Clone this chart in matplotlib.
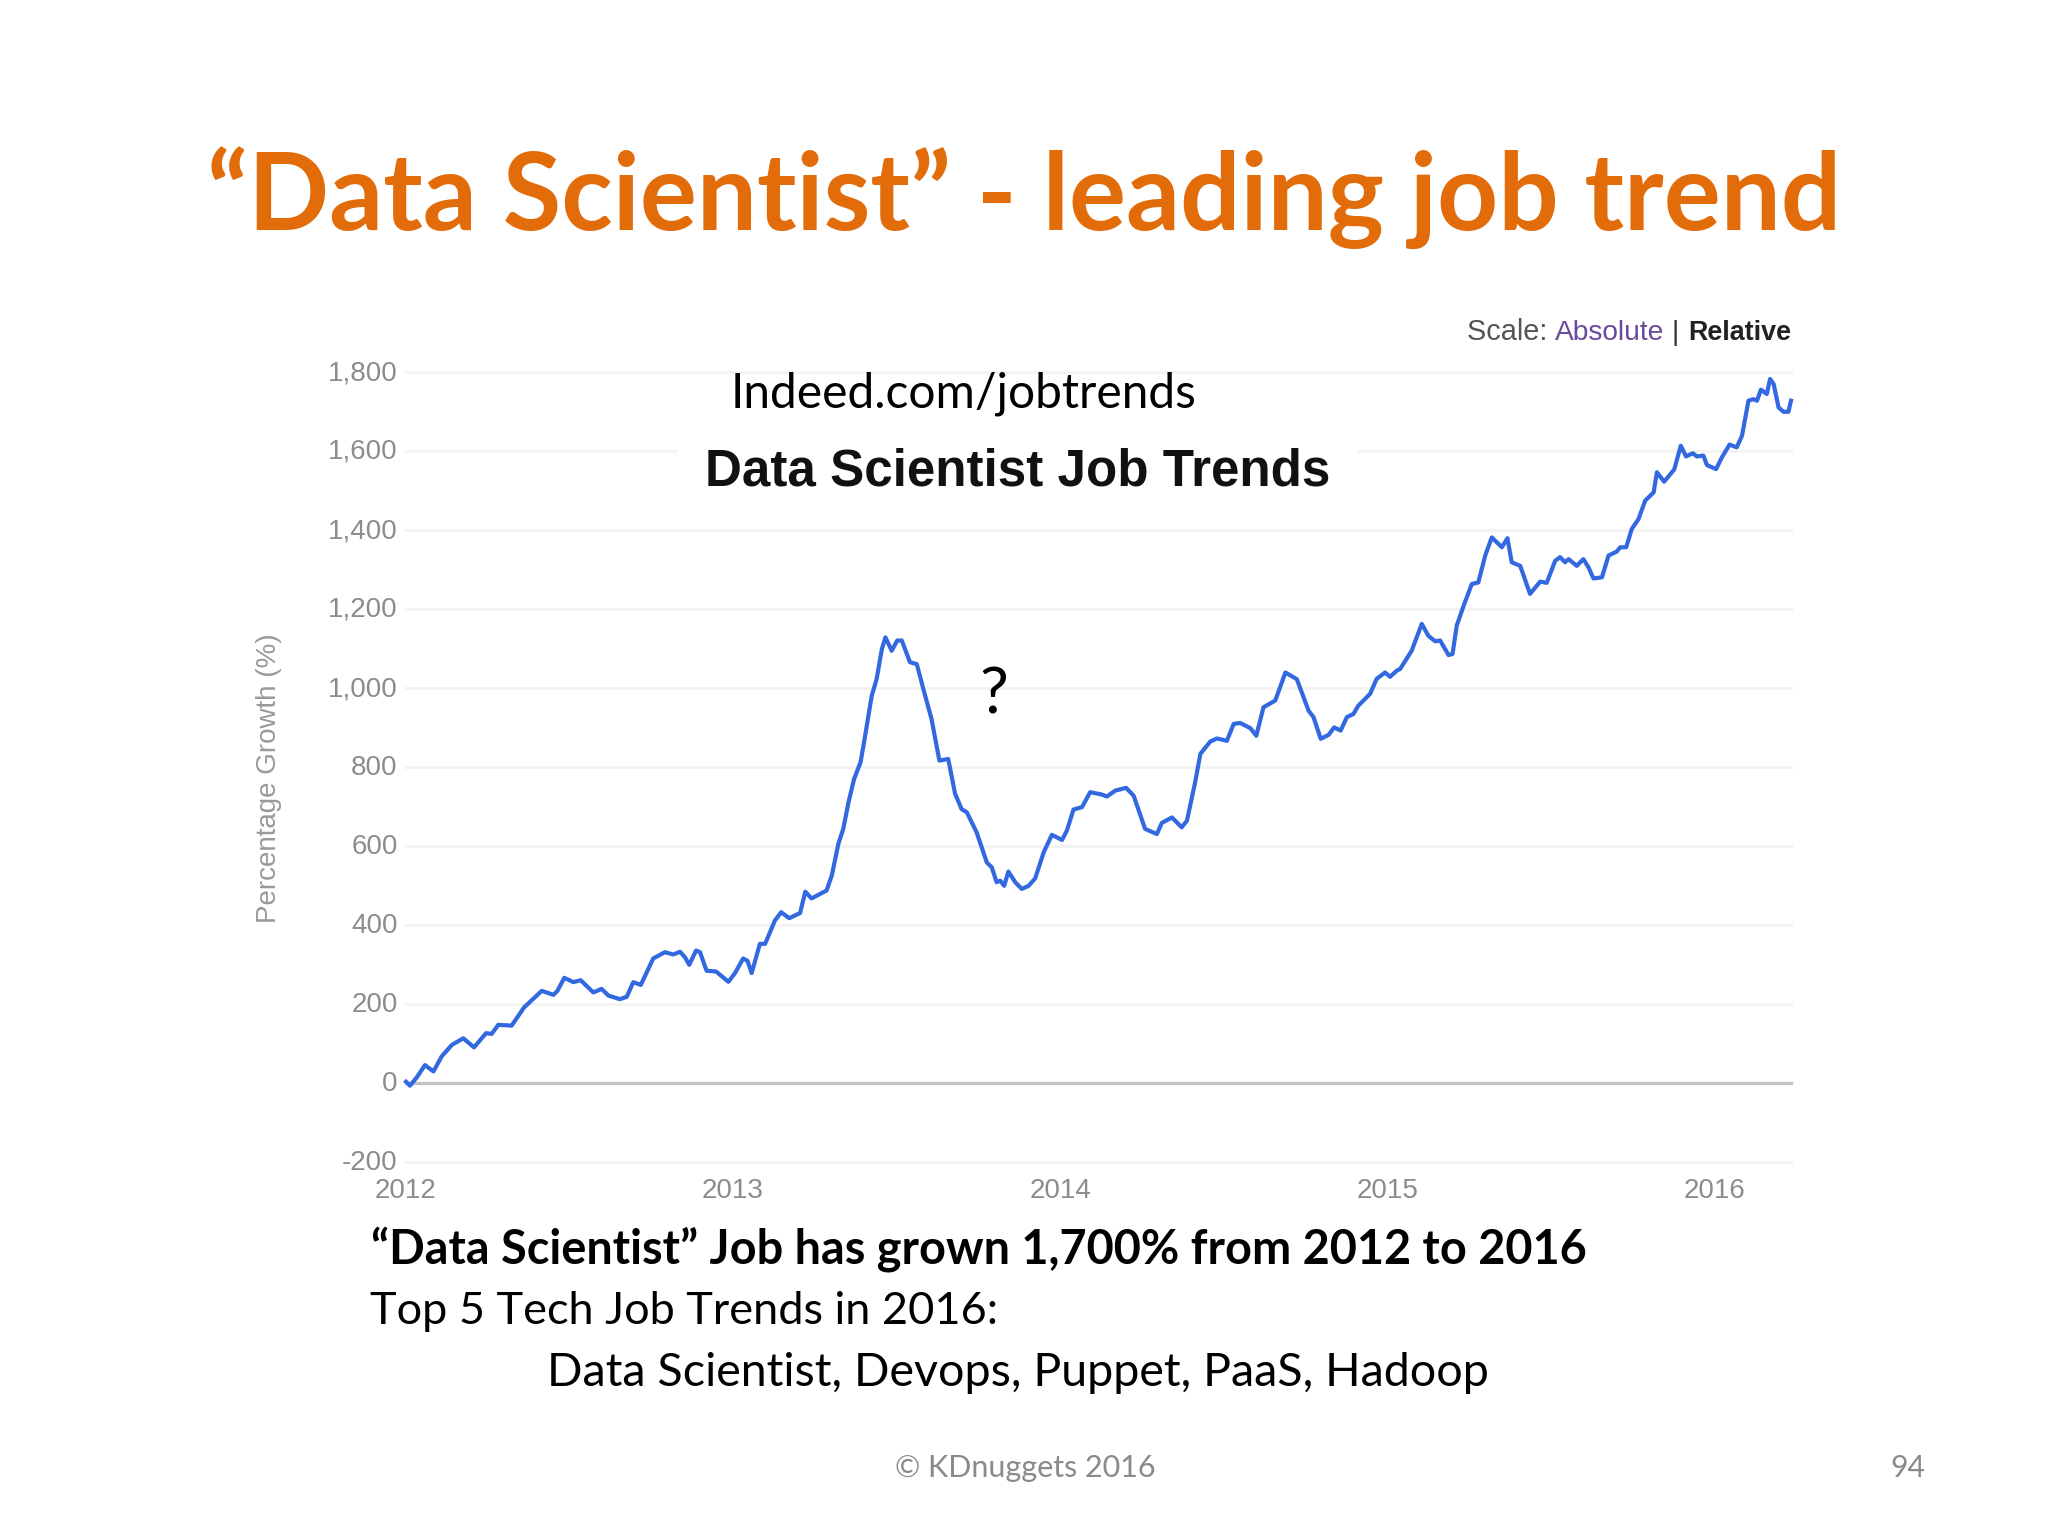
import matplotlib
matplotlib.use("Agg")
import matplotlib.pyplot as plt
from matplotlib.transforms import ScaledTranslation

# ---- data ----
years = [
 2012.000,2012.012,2012.033,2012.058,2012.084,2012.109,2012.140,2012.175,2012.208,2012.245,2012.262,2012.282,2012.323,
 2012.361,2012.415,2012.451,2012.463,2012.484,2012.512,2012.534,2012.573,2012.598,2012.619,2012.654,2012.675,2012.695,
 2012.718,2012.756,2012.792,2012.817,2012.838,2012.853,2012.866,2012.887,2012.899,2012.919,2012.948,2012.986,
 2013.006,2013.031,2013.044,2013.057,2013.082,2013.098,2013.128,2013.147,2013.172,2013.205,2013.221,2013.240,2013.286,
 2013.302,2013.322,2013.337,2013.353,2013.370,2013.390,2013.404,2013.424,2013.439,2013.455,2013.466,2013.485,2013.502,
 2013.516,2013.541,2013.562,2013.582,2013.607,2013.631,2013.658,2013.679,2013.699,2013.715,2013.745,2013.776,2013.791,
 2013.806,2013.817,2013.829,2013.842,2013.863,2013.883,2013.904,2013.924,2013.950,2013.975,
 2014.006,2014.021,2014.041,2014.067,2014.092,2014.128,2014.143,2014.169,2014.202,2014.225,2014.260,2014.296,2014.311,
 2014.342,2014.372,2014.388,2014.413,2014.429,2014.459,2014.480,2014.510,2014.531,2014.551,2014.582,2014.600,2014.622,
 2014.658,2014.689,2014.724,2014.760,2014.775,2014.797,2014.821,2014.838,2014.858,2014.877,2014.897,2014.912,2014.948,
 2014.968,2014.994,2015.009,2015.030,2015.040,2015.075,2015.106,2015.126,2015.147,2015.162,2015.188,2015.200,2015.213,
 2015.234,2015.259,2015.279,2015.300,2015.320,2015.351,2015.368,2015.381,2015.407,2015.437,2015.468,2015.488,2015.514,
 2015.529,2015.544,2015.555,2015.580,2015.600,2015.616,2015.631,2015.657,2015.677,2015.702,2015.713,2015.731,2015.748,
 2015.769,2015.789,2015.815,2015.825,2015.847,2015.878,2015.898,2015.914,2015.935,2015.947,2015.967,2015.978,
 2016.006,2016.024,2016.047,2016.069,2016.085,2016.105,2016.120,2016.131,2016.143,2016.161,2016.171,2016.182,2016.197,
 2016.212,2016.227,2016.235,
]
growth = [
 2,-8,13,44,28,66,95,112,89,125,123,146,144,
 190,232,222,232,265,254,259,228,237,220,211,217,254,
 247,314,330,324,331,317,298,334,330,283,281,255,
 277,314,308,277,351,351,410,431,416,429,483,466,486,
 524,604,642,709,768,811,878,979,1021,1097,1127,1093,1119,
 1119,1064,1059,996,920,815,819,731,692,684,633,557,545,
 507,511,498,534,507,490,498,517,583,627,
 614,638,691,697,735,729,724,739,746,726,642,629,657,
 671,646,663,760,832,863,871,865,908,910,897,878,950,
 967,1038,1021,941,925,870,880,899,891,925,933,954,984,
 1022,1038,1027,1043,1047,1093,1161,1131,1117,1119,1082,1085,1157,
 1207,1262,1266,1334,1380,1355,1378,1317,1308,1237,1268,1265,1321,
 1330,1317,1325,1308,1325,1304,1276,1279,1334,1344,1355,1355,1401,
 1427,1473,1494,1545,1521,1552,1612,1585,1593,1585,1587,1563,
 1553,1583,1615,1608,1637,1726,1730,1726,1754,1743,1781,1768,1709,
 1698,1698,1726,
]
y_ticks = [-200, 0, 200, 400, 600, 800, 1000, 1200, 1400, 1600, 1800]
x_ticks = [2012, 2013, 2014, 2015, 2016]

W, H = 2048, 1536
fig = plt.figure(figsize=(W / 100, H / 100), dpi=100, facecolor="white")
L, R, T, B = 406, 1791, 371.5, 1161.5
ax = fig.add_axes([L / W, 1 - B / H, (R - L) / W, (B - T) / H])
ax.set_xlim(2012, 2016.235)
ax.set_ylim(-200, 1800)
ax.patch.set_alpha(0)
for s in ax.spines.values():
    s.set_visible(False)
ax.set_yticks(y_ticks)
ax.set_yticklabels([f"{v:,}" for v in y_ticks])
ax.set_xticks(x_ticks)
ax.set_xticklabels([str(v) for v in x_ticks])
ax.tick_params(axis="both", length=0, labelsize=20, labelcolor="#8c8c8c")
ax.tick_params(axis="y", pad=6)
ax.tick_params(axis="x", pad=12)
for lab in ax.get_xticklabels() + ax.get_yticklabels():
    lab.set_family("Liberation Sans")
for lab in ax.get_yticklabels():
    lab.set_transform(lab.get_transform() + ScaledTranslation(0, 1.5 / 100, fig.dpi_scale_trans))
for v in y_ticks:
    if v == 0:
        ax.axhline(v, color="#c4c4c4", lw=2.4, zorder=1, clip_on=False)
    else:
        ax.axhline(v, color="#f3f3f3", lw=2.2, zorder=1, clip_on=False)
ax.plot(years, growth, color="#3268E0", lw=3.0, zorder=3, clip_on=False, solid_joinstyle="round")

renderer = fig.canvas.get_renderer()


def fit(s, x0, x1, base, family, weight="normal", color="black", **kw):
    t = fig.text(x0 / W, 1 - base / H, s, family=family, weight=weight, color=color,
                 ha="left", va="baseline", fontsize=20, zorder=5, **kw)
    w = t.get_window_extent(renderer).width
    t.set_fontsize(20 * (x1 - x0) / w)
    return t


fit("“Data Scientist” - leading job trend", 207, 1843, 230, "Lato", "bold", "#E36C0A")
fit("Indeed.com/jobtrends", 731, 1198, 407, "Lato")
t = fit("Data Scientist Job Trends", 705, 1329, 486, "Liberation Sans", "bold", "#111111")
t.set_bbox(dict(facecolor="white", edgecolor="none", pad=20))
t.set_zorder(2)
fit("?", 979, 1008, 714, "Lato")
fit("“Data Scientist” Job has grown 1,700% from 2012 to 2016", 371, 1588, 1263, "Lato", "bold")
fit("Top 5 Tech Job Trends in 2016:", 370, 1000, 1324, "Lato")
fit("Data Scientist, Devops, Puppet, PaaS, Hadoop", 547, 1492, 1386, "Lato")
fit("© KDnuggets 2016", 895, 1156, 1477, "Lato", color="#8a8a8a")
fit("94", 1890, 1925, 1477, "Lato", color="#8a8a8a")

# scale selector
fit("Scale: ", 1467, 1555, 340, "Liberation Sans", color="#555555")
fit("Absolute", 1555, 1664, 340, "Liberation Sans", color="#6a4a9c")
fig.text(1675 / W, 1 - 340 / H, "|", family="Liberation Sans", fontsize=20, color="#333333",
         ha="center", va="baseline")
fit("Relative", 1688, 1791, 340, "Liberation Sans", "bold", "#222222")

fig.text(269 / W, 1 - 778 / H, "Percentage Growth (%)", rotation=90, family="Liberation Sans",
         fontsize=20, color="#999999", ha="center", va="center")

fig.savefig("out.png", dpi=100, facecolor="white")
